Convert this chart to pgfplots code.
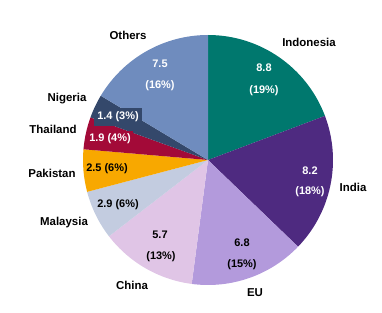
\documentclass[border=0pt]{standalone}
\usepackage{pgfplots}
\pgfplotsset{compat=1.18}
\usepackage{fontspec}
\setmainfont{Liberation Sans}
\definecolor{cIndo}{HTML}{00786E}
\definecolor{cIndia}{HTML}{4E2A80}
\definecolor{cEU}{HTML}{B39ADC}
\definecolor{cChina}{HTML}{E0C5E6}
\definecolor{cMal}{HTML}{C3CCE0}
\definecolor{cPak}{HTML}{F8A800}
\definecolor{cThai}{HTML}{A30A38}
\definecolor{cNig}{HTML}{34486B}
\definecolor{cOth}{HTML}{6F8CBE}
% values (million tonnes)
\def\vIndo{8.8}\def\vIndia{8.2}\def\vEU{6.8}\def\vChina{5.7}\def\vMal{2.9}
\def\vPak{2.5}\def\vThai{1.9}\def\vNig{1.4}\def\vOth{7.5}
\newcommand\piewedge[3]{\fill[#1] (axis cs:208,153) -- ++(#2:125bp) arc[start angle=#2, end angle=#3, radius=125bp] -- cycle;}
\begin{document}
\begin{tikzpicture}
\pgfmathsetmacro\tot{\vIndo+\vIndia+\vEU+\vChina+\vMal+\vPak+\vThai+\vNig+\vOth}
\pgfmathsetmacro\aA{90}
\pgfmathsetmacro\aB{\aA-\vIndo/\tot*360}
\pgfmathsetmacro\aC{\aB-\vIndia/\tot*360}
\pgfmathsetmacro\aD{\aC-\vEU/\tot*360}
\pgfmathsetmacro\aE{\aD-\vChina/\tot*360}
\pgfmathsetmacro\aF{\aE-\vMal/\tot*360}
\pgfmathsetmacro\aG{\aF-\vPak/\tot*360}
\pgfmathsetmacro\aH{\aG-\vThai/\tot*360}
\pgfmathsetmacro\aI{\aH-\vNig/\tot*360}
\pgfmathsetmacro\aJ{\aI-\vOth/\tot*360}
\begin{axis}[scale only axis, width=382bp, height=313bp,
  xmin=0, xmax=382, ymin=0, ymax=313, axis lines=none, clip=false]
\path (axis cs:0,0) (axis cs:382,313);
\piewedge{cIndo}{\aA}{\aB}
\piewedge{cIndia}{\aB}{\aC}
\piewedge{cEU}{\aC}{\aD}
\piewedge{cChina}{\aD}{\aE}
\piewedge{cMal}{\aE}{\aF}
\piewedge{cPak}{\aF}{\aG}
\piewedge{cThai}{\aG}{\aH}
\piewedge{cNig}{\aH}{\aI}
\piewedge{cOth}{\aI}{\aJ}
\tikzset{lab/.style={font=\fontsize{11.5}{13}\selectfont\bfseries, inner sep=0pt},
  val/.style={font=\fontsize{11}{13}\selectfont\bfseries, inner sep=0pt}}
% category labels
\node[lab] at (axis cs:309,271) {Indonesia};
\node[lab] at (axis cs:353,126) {India};
\node[lab] at (axis cs:255,20) {EU};
\node[lab] at (axis cs:132,28) {China};
\node[lab] at (axis cs:64,90) {Malaysia};
\node[lab] at (axis cs:52,140) {Pakistan};
\node[lab] at (axis cs:53,184) {Thailand};
\node[lab] at (axis cs:67,214) {Nigeria};
\node[lab] at (axis cs:128,278) {Others};
% value labels
\node[val,white] at (axis cs:264,245) {8.8};
\node[val,white] at (axis cs:264,222) {(19\%)};
\node[val,white] at (axis cs:310,142) {8.2};
\node[val,white] at (axis cs:310,121) {(18\%)};
\node[val] at (axis cs:242,70) {6.8};
\node[val] at (axis cs:242,48) {(15\%)};
\node[val] at (axis cs:160,78) {5.7};
\node[val] at (axis cs:161,56) {(13\%)};
\node[val] at (axis cs:118,108) {2.9 (6\%)};
\node[val] at (axis cs:107,144) {2.5 (6\%)};
\node[val,white,fill=cThai,inner xsep=2pt,inner ysep=3pt] at (axis cs:110,174) {1.9 (4\%)};
\node[val,white,fill=cNig,inner xsep=3pt,inner ysep=4pt] at (axis cs:118,196) {1.4 (3\%)};
\node[val,white] at (axis cs:160,249) {7.5};
\node[val,white] at (axis cs:160,227) {(16\%)};
\end{axis}
\end{tikzpicture}
\end{document}
